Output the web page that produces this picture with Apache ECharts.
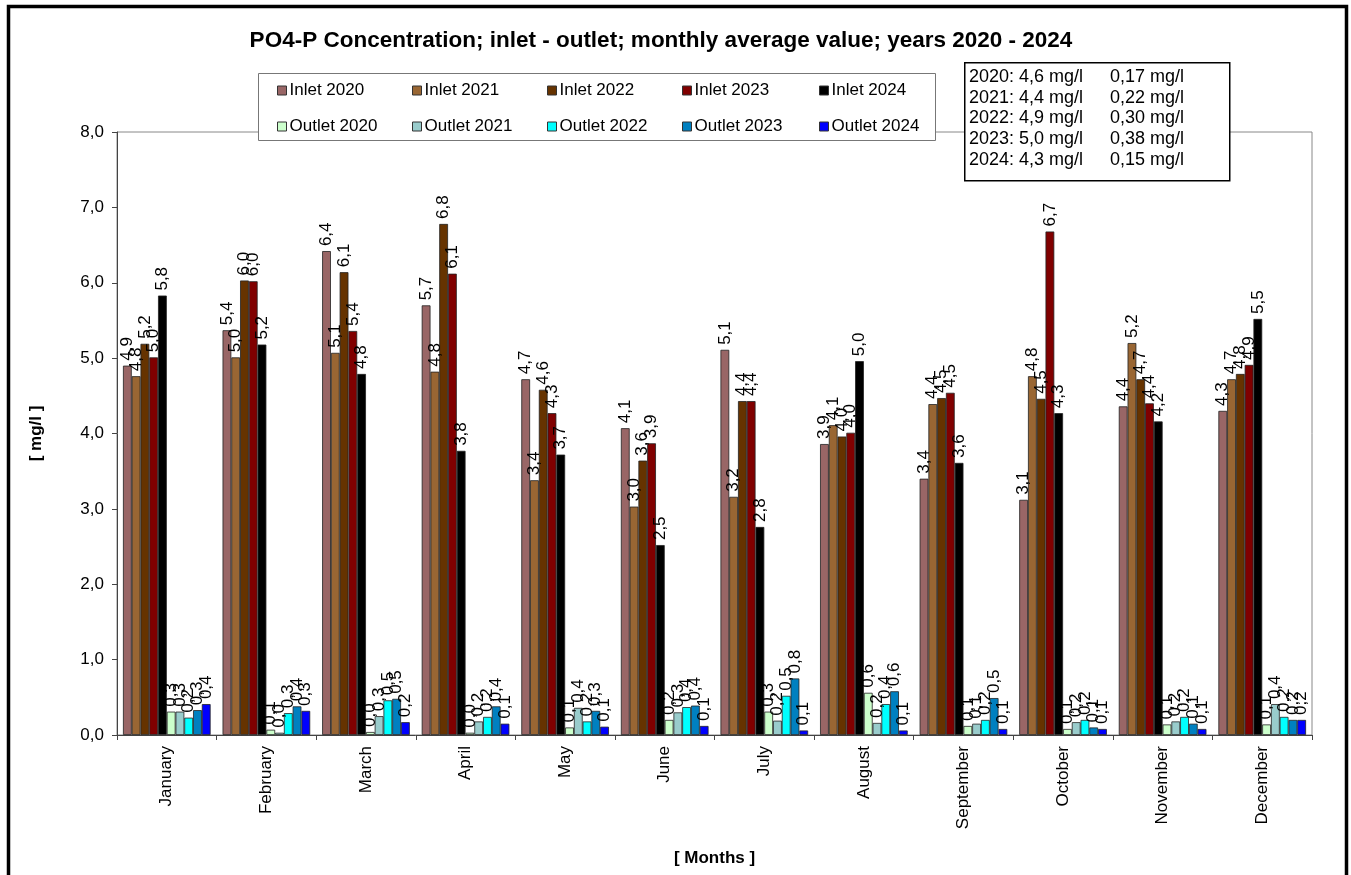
<!DOCTYPE html>
<html>
<head>
<meta charset="utf-8">
<script src="https://cdn.jsdelivr.net/npm/echarts@6/dist/echarts.min.js"></script>
<style>
html,body{margin:0;padding:0;background:#fff;}
#chart{width:1351px;height:875px;}
</style>
</head>
<body>
<div id="chart"></div>
<script>
const months = ['January','February','March','April','May','June','July','August','September','October','November','December'];
const yTicks = [0,1,2,3,4,5,6,7,8];

const inlet2020 = [4.90,5.37,6.42,5.70,4.72,4.07,5.11,3.86,3.40,3.12,4.36,4.30];
const inlet2021 = [4.76,5.01,5.07,4.82,3.38,3.03,3.16,4.11,4.39,4.76,5.20,4.72];
const inlet2022 = [5.19,6.03,6.14,6.78,4.58,3.64,4.43,3.96,4.47,4.46,4.72,4.79];
const inlet2023 = [5.01,6.02,5.36,6.12,4.27,3.87,4.43,4.01,4.54,6.68,4.40,4.91];
const inlet2024 = [5.83,5.18,4.79,3.77,3.72,2.52,2.76,4.96,3.61,4.27,4.16,5.52];

const outlet2020 = [0.31,0.07,0.04,0.03,0.10,0.20,0.31,0.56,0.12,0.08,0.14,0.14];
const outlet2021 = [0.31,0.03,0.25,0.18,0.36,0.30,0.19,0.16,0.15,0.17,0.18,0.41];
const outlet2022 = [0.23,0.29,0.46,0.24,0.18,0.37,0.52,0.41,0.20,0.20,0.24,0.24];
const outlet2023 = [0.33,0.38,0.48,0.38,0.32,0.39,0.75,0.58,0.49,0.10,0.15,0.20];
const outlet2024 = [0.41,0.32,0.17,0.15,0.11,0.12,0.06,0.06,0.08,0.08,0.08,0.20];

const years = ['2020','2021','2022','2023','2024'];
const inletAvg = ['4,6','4,4','4,9','5,0','4,3'];
const outletAvg = ['0,17','0,22','0,30','0,38','0,15'];

const inletColors = ['#996666','#996633','#663300','#800000','#000000'];
const outletColors = ['#CCFFCC','#99CCCC','#00FFFF','#0080C0','#0000FF'];

const FONT = 'Liberation Sans, Arial, sans-serif';
const fmt = v => v.toFixed(1).replace('.', ',');

const inletData = [inlet2020,inlet2021,inlet2022,inlet2023,inlet2024];
const outletData = [outlet2020,outlet2021,outlet2022,outlet2023,outlet2024];

function mkSeries(name, data, color){
  return {
    name: name, type: 'bar', data: data, barGap: '0%', barCategoryGap: '12%',
    itemStyle: {color: color, borderColor: '#222', borderWidth: 0.8},
    label: {
      show: true, position: 'top', rotate: 90, align: 'left', verticalAlign: 'middle',
      distance: 5, fontFamily: FONT, fontSize: 17, color: '#000',
      formatter: p => fmt(p.value)
    },
    emphasis: {disabled: true},
    animation: false
  };
}
const series = [];
years.forEach((y,i)=>series.push(mkSeries('Inlet '+y, inletData[i], inletColors[i])));
years.forEach((y,i)=>series.push(mkSeries('Outlet '+y, outletData[i], outletColors[i])));

const colX = [272, 407, 542, 677, 814];
const legends = years.map((y,i)=>({
  orient: 'vertical', left: colX[i], top: 77, itemWidth: 9, itemHeight: 9, itemGap: 19,
  icon: 'rect', selectedMode: false, z: 120,
  data: ['Inlet '+y, 'Outlet '+y],
  textStyle: {fontFamily: FONT, fontSize: 17, color: '#000', padding: [0,0,0,-2]},
  itemStyle: {borderColor: '#333', borderWidth: 1}
}));

const infoEls = [{
  type: 'rect', left: 964, top: 62, z: 100,
  shape: {width: 265, height: 118},
  style: {fill: '#fff', stroke: '#000', lineWidth: 1.5}
}];
years.forEach((y,i)=>{
  infoEls.push({type:'text', left: 969, top: 68 + i*20.7, z: 101,
    style:{text: y + ': ' + inletAvg[i] + ' mg/l', font: '18px ' + FONT, fill:'#000'}});
  infoEls.push({type:'text', left: 1110, top: 68 + i*20.7, z: 101,
    style:{text: outletAvg[i] + ' mg/l', font: '18px ' + FONT, fill:'#000'}});
});

const option = {
  backgroundColor: '#fff',
  animation: false,
  title: {
    text: 'PO4-P Concentration; inlet - outlet; monthly average value; years 2020 - 2024',
    left: 656, top: 24, textAlign: 'center',
    textStyle: {fontFamily: FONT, fontSize: 22.5, fontWeight: 'bold', color: '#000'}
  },
  legend: legends,
  grid: {left: 117, right: 39, top: 132, bottom: 140, show: true, borderColor: '#888', borderWidth: 1, backgroundColor: 'transparent'},
  xAxis: {
    type: 'category', data: months,
    name: '[ Months ]', nameLocation: 'middle', nameGap: 115,
    nameTextStyle: {fontFamily: FONT, fontSize: 17, fontWeight: 'bold', color: '#000'},
    axisLine: {lineStyle: {color: '#444', width: 1}},
    axisTick: {show: true, length: 5, lineStyle: {color: '#444'}},
    axisLabel: {rotate: 90, fontFamily: FONT, fontSize: 17, color: '#000', margin: 11, interval: 0}
  },
  yAxis: {
    type: 'value', min: 0, max: 8, interval: 1,
    name: '[ mg/l ]', nameLocation: 'middle', nameGap: 72, nameRotate: 90,
    nameTextStyle: {fontFamily: FONT, fontSize: 17, fontWeight: 'bold', color: '#000'},
    axisLine: {show: true, lineStyle: {color: '#444', width: 1}},
    axisTick: {show: true, length: 5, lineStyle: {color: '#444'}},
    splitLine: {show: false},
    axisLabel: {fontFamily: FONT, fontSize: 17, color: '#000', margin: 13,
      formatter: v => yTicks.includes(v) ? fmt(v) : ''}
  },
  series: series,
  graphic: [
    {type: 'rect', left: 6, top: 4, z: 90, silent: true,
     shape: {width: 1338, height: 880}, style: {fill: 'none', stroke: '#000', lineWidth: 3.5}},
    {type: 'rect', left: 258, top: 73, z: 99, silent: true,
     shape: {width: 677, height: 67}, style: {fill: '#fff', stroke: '#777', lineWidth: 1}},
    {type: 'group', children: infoEls}
  ]
};

const chart = echarts.init(document.getElementById('chart'), null, {renderer: 'canvas'});
chart.setOption(option);
</script>
</body>
</html>
